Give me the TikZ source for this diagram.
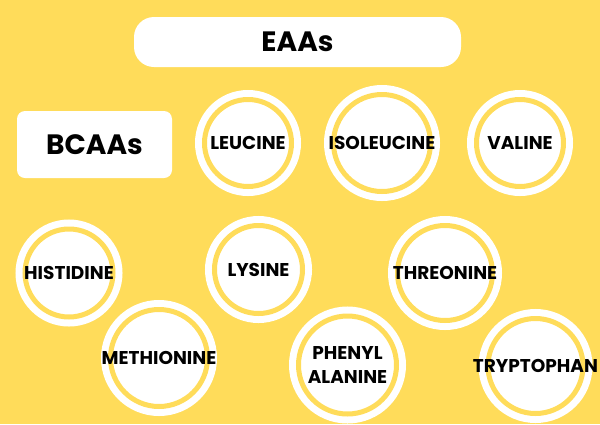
\documentclass[tikz,border=0pt]{standalone}
\usepackage{fontspec}
\setmainfont{Poppins}
\usepackage{xcolor}
\usepackage{tikz}
\definecolor{bgyellow}{HTML}{FFDC5A}

\begin{document}
\begin{tikzpicture}[x=1pt,y=-1pt,
  ring/.style={circle, inner sep=0pt, fill=white, draw=bgyellow, line width=5pt,
    preaction={draw=white, line width=19pt}},
  acid/.style={font=\fontsize{18.5}{24}\selectfont\bfseries, align=center, inner sep=0pt},
  tag/.style={fill=white, font=\fontsize{28}{30}\selectfont\bfseries, inner sep=0pt}]
 \fill[bgyellow] (0,0) rectangle (600,424);
 \useasboundingbox (0,0) rectangle (600,424);
 \node[tag, rounded corners=20pt, minimum width=327pt, minimum height=50pt] (eaas) at (297.5,42) {EAAs};
 \node[tag, rounded corners=8pt, minimum width=155pt, minimum height=67pt] (bcaas) at (94.5,144.5) {BCAAs};
 \foreach \n/\x/\y/\r/\t in {leu/248/143/53/LEUCINE, iso/382/143/58/ISOLEUCINE, val/520/143/53/VALINE,
   his/69/273/53.5/HISTIDINE, lys/258.5/269.5/53.5/LYSINE, thr/445/273/57/THREONINE,
   met/159/358/58/METHIONINE, phe/347.5/365/58.5/{PHENYL\\ALANINE}, try/535.5/366/57/TRYPTOPHAN}
   \node[ring, minimum size={(2*\r-19)*1pt}] (\n) at (\x,\y) {} node[acid] (\n-txt) at (\n) {\t};
\end{tikzpicture}
\end{document}
